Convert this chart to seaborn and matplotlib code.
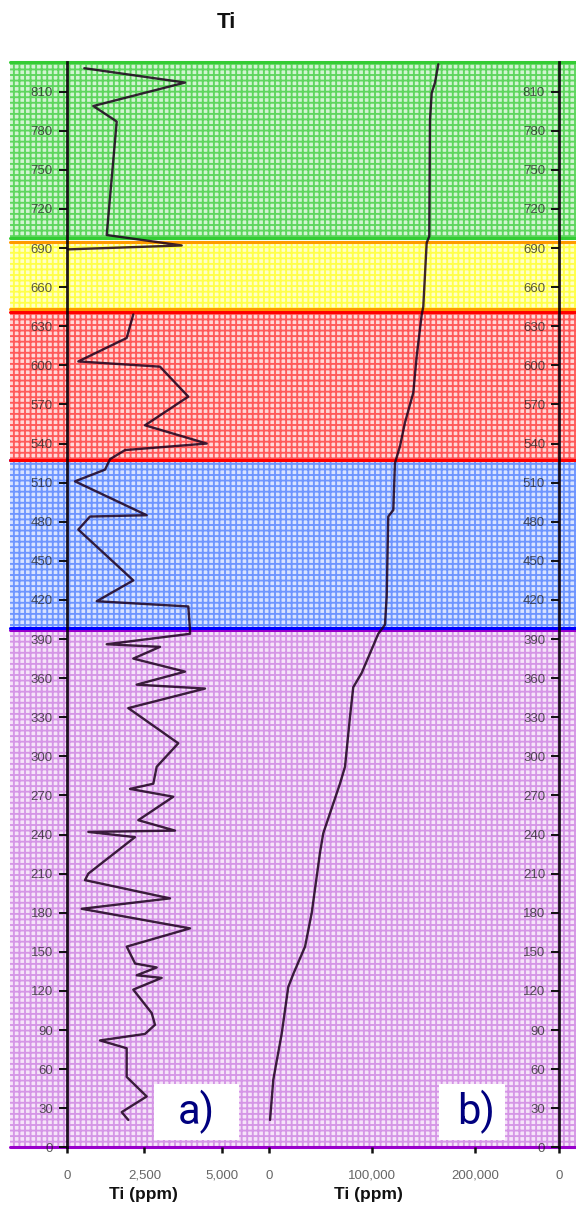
import numpy as np
import pandas as pd
import matplotlib
matplotlib.use('Agg')
import matplotlib.pyplot as plt
import seaborn as sns
from matplotlib.patches import Rectangle

sns.set_theme(style='white')
plt.rcParams['font.family'] = ['Liberation Sans', 'DejaVu Sans']
plt.rcParams['hatch.linewidth'] = 1.35

# ---------------- data ----------------
# panel a) Ti (ppm) versus depth, two measured segments (gap in the yellow unit)
seg1_depth = [828, 817, 799, 788, 787, 700, 692, 689]
seg1_ti = [566, 3804, 855, 1553, 1608, 1286, 3698, 42]

seg2_depth = [639, 621, 603, 599, 576, 554, 540, 535, 528, 520,
              511, 485, 484, 474, 435, 419, 415, 397, 394, 386,
              384, 375, 365, 355, 352, 337, 310, 292, 279, 275,
              269, 251, 243, 242, 238, 210, 205, 191, 183, 168,
              154, 141, 138, 132, 130, 121, 103, 94, 87, 82,
              76, 54, 39, 27, 21]
seg2_ti = [2141, 1929, 373, 3000, 3910, 2518, 4502, 1875, 1392, 1232,
           267, 2572, 749, 373, 2141, 965, 3910, 3965, 3965, 1286,
           3000, 2141, 3804, 2251, 4447, 1981, 3588, 2894, 2785, 2035,
           3428, 2302, 3482, 695, 2196, 695, 588, 3322, 482, 3965,
           1929, 2200, 2894, 2251, 3055, 2141, 2733, 2839, 2518, 1071,
           1929, 1929, 2572, 1768, 1981]

# panel b) Ti (ppm) profile
depth_b = [831, 817, 809, 788, 699, 694, 645, 639, 607, 579,
           556, 538, 525, 489, 484, 423, 401, 394, 364, 353,
           330, 292, 279, 241, 226, 180, 154, 133, 123, 87,
           52, 21]
ti_b = [164400, 161200, 158000, 156300, 155600, 153100, 149800, 148300, 143400, 140100,
        132000, 127200, 122300, 120700, 115800, 114300, 112600, 106100, 90000, 81800,
        78600, 73800, 68900, 52700, 49500, 41500, 35000, 23600, 18700, 12300,
        4200, 1000]

# coloured units: (bottom, top)
band_names = ['purple', 'blue', 'red', 'yellow', 'green']
band_bottoms = [0, 398.5, 527, 643, 697.5]
band_tops = [397, 527, 641, 694.5, 833]

depth_ticks = list(range(0, 811, 30))
a_xticks = [0, 2500, 5000]
a_xticklabels = ['0', '2,500', '5,000']
b_xticks = [0, 100000, 200000]
b_xticklabels = ['0', '100,000', '200,000']

# ---------------- styling ----------------
band_fill = {'purple': '#f6e4f9', 'blue': '#d8e3ff', 'red': '#ffd8d8',
             'yellow': '#ffffc8', 'green': '#d2f4d2'}
band_grid = {'purple': '#d596e6', 'blue': '#6e95ff', 'red': '#ff5a5a',
             'yellow': '#ffff4a', 'green': '#5ed65e'}
band_edge = {'purple': '#9900cc', 'blue': '#0000ff', 'red': '#ff0000',
             'yellow': '#ff9900', 'green': '#33cc33'}

W, H = 576, 1207
fig = plt.figure(figsize=(W / 100, H / 100), dpi=100)
L, R = 10 / W, 576 / W
B, T = (H - 1147.3) / H, (H - 61.7) / H
rect = [L, B, R - L, T - B]
YMAX = 833

ax_bg = fig.add_axes(rect, zorder=0)
ax_a = fig.add_axes(rect, zorder=2)
ax_b = fig.add_axes(rect, zorder=3)
for ax in (ax_a, ax_b):
    ax.patch.set_alpha(0)

# background coloured units with fine grid
ax_bg.set_xlim(0, 1)
ax_bg.set_ylim(0, YMAX)
for name, lo, hi in zip(band_names, band_bottoms, band_tops):
    ax_bg.axhspan(lo, hi, facecolor=band_fill[name], edgecolor=band_grid[name],
                  hatch='+++', linewidth=0, zorder=1)
for name, lo, hi in zip(band_names, band_bottoms, band_tops):
    ax_bg.axhline(lo, color=band_edge[name], lw=2.2, zorder=3, clip_on=False)
    ax_bg.axhline(hi, color=band_edge[name], lw=2.2, zorder=3, clip_on=False)
ax_bg.axis('off')

line_kw = dict(color='#1c001c', alpha=0.85, linewidth=1.7)

# panel a
df_a = pd.DataFrame({
    'depth': seg1_depth + seg2_depth,
    'ti': seg1_ti + seg2_ti,
    'seg': [1] * len(seg1_depth) + [2] * len(seg2_depth),
})
sns.lineplot(data=df_a, x='ti', y='depth', units='seg', estimator=None,
             sort=False, ax=ax_a, **line_kw)
ax_a.set_xlim(-1823, 16376)
ax_a.set_ylim(0, YMAX)

# panel b
df_b = pd.DataFrame({'depth': depth_b, 'ti': ti_b})
sns.lineplot(data=df_b, x='ti', y='depth', estimator=None, sort=False,
             ax=ax_b, **line_kw)
ax_b.set_xlim(-251500, 298100)
ax_b.set_ylim(0, YMAX)
b_axis_pos = 281600

tick_col = (0.1, 0.1, 0.1, 0.72)
for ax, spine_pos, xt, xtl in ((ax_a, 0, a_xticks, a_xticklabels),
                               (ax_b, b_axis_pos, b_xticks + [b_axis_pos], b_xticklabels + ['0'])):
    ax.set_xlabel('')
    ax.set_ylabel('')
    for s in ('top', 'right', 'bottom'):
        ax.spines[s].set_visible(False)
    ax.spines['left'].set_position(('data', spine_pos))
    ax.spines['left'].set_color('#0a000a')
    ax.spines['left'].set_linewidth(2.0)
    ax.spines['left'].set_alpha(0.9)
    ax.set_yticks(depth_ticks)
    ax.set_yticklabels([str(v) for v in depth_ticks])
    ax.set_xticks(xt)
    ax.set_xticklabels(xtl)
    ax.tick_params(axis='y', left=True, direction='out', length=6, width=1.4,
                   pad=4, labelsize=9.5, labelcolor=tick_col, color='#111111')
    ax.tick_params(axis='x', bottom=True, direction='out', length=4, width=1.8,
                   pad=12, labelsize=9.5, labelcolor=(0.2, 0.2, 0.2, 0.75),
                   color='#111111')

# texts
fig.text(226.7 / W, 1 - 23 / H, 'Ti', ha='center', va='center',
         fontsize=16, fontweight='bold', color='#111111')
fig.text(143 / W, 1 - 1195 / H, 'Ti (ppm)', ha='center', va='center',
         fontsize=12.5, fontweight='bold', color='#111111')
fig.text(368 / W, 1 - 1195 / H, 'Ti (ppm)', ha='center', va='center',
         fontsize=12.5, fontweight='bold', color='#111111')

for (x0, x1, lab, cx) in ((154, 239, 'a)', 196), (439, 505, 'b)', 475.7)):
    fig.add_artist(Rectangle((x0 / W, 1 - 1140 / H), (x1 - x0) / W, 56 / H,
                             transform=fig.transFigure, facecolor='white',
                             edgecolor='none', zorder=10))
    fig.text(cx / W, 1 - 1112 / H, lab, ha='center', va='center',
             fontsize=30, color='#00007f', zorder=11,
             family=['Roboto', 'Liberation Sans', 'DejaVu Sans'])

fig.savefig('out.png', dpi=100)
